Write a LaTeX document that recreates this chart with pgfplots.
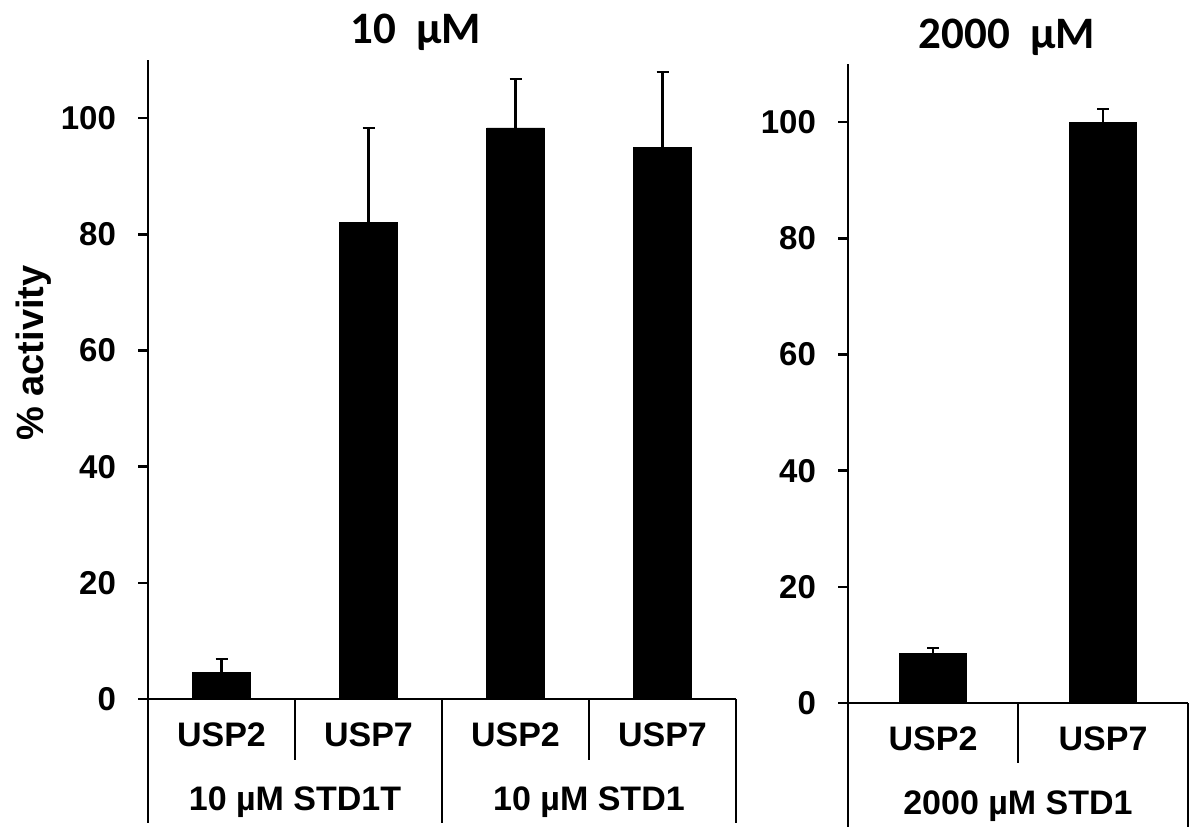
\documentclass[border=0pt]{standalone}
\usepackage{pgfplots}
\pgfplotsset{compat=1.18}
\usepackage{fontspec}
\setmainfont{Liberation Sans}
\newfontfamily\titlefont{Carlito}

\tikzset{
  sep/.style={line width=1.3pt, black},
  grp/.style={font=\fontsize{17}{20}\selectfont\bfseries, anchor=center},
}
\pgfplotsset{
  panel/.style={
    scale only axis,
    ymin=0, ymax=110,
    ytick={0,20,40,60,80,100},
    axis x line=bottom, axis y line=left,
    axis line style={-, line width=1.3pt, black},
    tick align=outside,
    major tick length=5pt,
    ytick style={line width=1.3pt, black},
    xtick style={draw=none},
    /pgf/number format/assume math mode=true,
    yticklabel style={font=\fontsize{16.5}{18}\selectfont\bfseries, xshift=-7.5pt},
    xticklabel style={font=\fontsize{17}{20}\selectfont\bfseries, anchor=center, yshift=-13pt},
    clip=false,
    enlargelimits=false,
    ybar, bar width=0.39,
  },
  bars/.style={fill=black, draw=black,
    error bars/.cd, y dir=plus, y explicit,
    error bar style={line width=1.2pt, black},
    error mark options={rotate=90, mark size=3pt, line width=1.2pt, black}},
}

\begin{document}
\begin{tikzpicture}
\path[use as bounding box] (0,0) rectangle (596pt,-415pt);

\begin{axis}[panel,
  at={(74pt,-349.5pt)}, anchor=south west,
  width=294pt, height=319.5pt,
  xmin=0.5, xmax=4.5,
  xtick={1,2,3,4},
  xticklabels={USP2,USP7,USP2,USP7}]
\addplot[bars] coordinates {
  (1,4.6) +- (0,2.3)
  (2,82.0) +- (0,16.3)
  (3,98.3) +- (0,8.4)
  (4,95.0) +- (0,12.9)
};
\draw[sep] (axis cs:1.5,0) -- ++(0pt,-30.5pt);
\draw[sep] (axis cs:3.5,0) -- ++(0pt,-30.5pt);
\draw[sep] (axis cs:0.5,0) -- ++(0pt,-62pt);
\draw[sep] (axis cs:2.5,0) -- ++(0pt,-62pt);
\draw[sep] (axis cs:4.5,0) -- ++(0pt,-62pt);
\node[grp, yshift=-51.5pt] at (axis cs:1.5,0) {10 µM STD1T};
\node[grp, yshift=-51.5pt] at (axis cs:3.5,0) {10 µM STD1};
\end{axis}

\begin{axis}[panel,
  at={(424pt,-351.5pt)}, anchor=south west,
  width=170pt, height=319.5pt,
  xmin=0.5, xmax=2.5,
  xtick={1,2},
  xticklabels={USP2,USP7}]
\addplot[bars] coordinates {
  (1,8.6) +- (0,0.9)
  (2,100.0) +- (0,2.3)
};
\draw[sep] (axis cs:1.5,0) -- ++(0pt,-30pt);
\draw[sep] (axis cs:0.5,0) -- ++(0pt,-62pt);
\draw[sep] (axis cs:2.5,0) -- ++(0pt,-62pt);
\node[grp, yshift=-51.5pt] at (axis cs:1.5,0) {2000 µM STD1};
\end{axis}

\node[font=\titlefont\bfseries\fontsize{22.5}{26}\selectfont, anchor=base] at (208pt,-21.5pt) {10\ \ µM};
\node[font=\titlefont\bfseries\fontsize{22.5}{26}\selectfont, anchor=base] at (503.5pt,-24pt) {2000\ \ µM};
\node[font=\fontsize{19}{22}\selectfont\bfseries, rotate=90, anchor=center] at (17pt,-176.5pt) {\% activity};
\end{tikzpicture}
\end{document}
